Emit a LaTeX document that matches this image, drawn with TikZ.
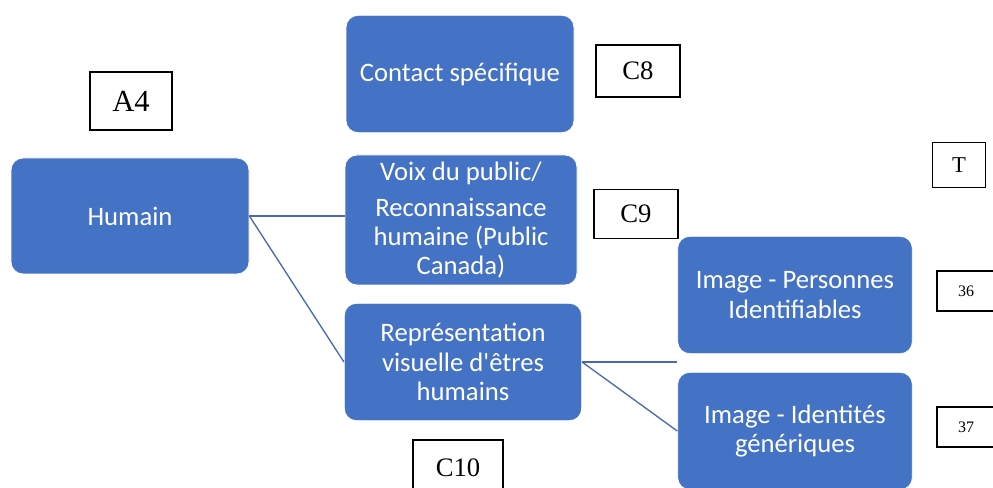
\documentclass[tikz,border=0pt]{standalone}
\usepackage{fontspec}
\setmainfont{Liberation Serif}
\newfontfamily\boxfont{Carlito}
\usepackage{xcolor}
\usepackage{tikz}
\usetikzlibrary{positioning, calc}
\definecolor{boxblue}{HTML}{4472C4}
\definecolor{linkblue}{HTML}{4A6AAE}

\begin{document}
\begin{tikzpicture}[x=0.75pt, y=-0.75pt,
    blk/.style={fill=boxblue, draw=white, line width=0.6pt, rounded corners=9pt,
      text=white, align=center, inner sep=0pt, minimum width=176pt, minimum height=88pt,
      font=\boxfont\fontsize{20}{22}\selectfont},
    tag/.style={draw=black, fill=white, line width=0.9pt, inner sep=0pt,
      font=\fontsize{20}{22}\selectfont},
    link/.style={draw=linkblue, line width=1pt}]
      \useasboundingbox (0,0) rectangle (993,488);
      \clip (0,0) rectangle (993,488);

      \node[blk, minimum width=178.5pt, minimum height=87pt] at (130,216) (hum) {Humain};
      \node[blk, minimum width=171pt] at (460,74) (contact) {Contact spécifique};
      \node[blk, minimum width=174pt, minimum height=97.5pt] at (461,220) (voix) {Voix du public/\\[5pt] Reconnaissance\\humaine (Public\\Canada)};
      \node[blk, minimum width=178pt] at (463,362) (rep) {Représentation\\visuelle d'êtres\\humains};
      \node[blk] at (795,295) (ip) {Image - Personnes\\Identifiables};
      \node[blk] at (795,431) (ig) {Image - Identités\\génériques};

      \node[tag, minimum width=61.5pt, minimum height=43.5pt, font=\fontsize{23}{25}\selectfont] at (131,101) (a4) {A4};
      \node[tag, minimum width=63pt, minimum height=39pt] at (638,71) (c8) {C8};
      \node[tag, minimum width=63pt, minimum height=37pt] at (636,214) (c9) {C9};
      \node[tag, minimum width=67.5pt, minimum height=42pt] at (458,468) (c10) {C10};
      \node[tag, minimum width=40pt, minimum height=34pt, font=\fontsize{17}{19}\selectfont] at (959,165) (t) {T};
      \node[tag, minimum width=43.5pt, minimum height=30pt, font=\fontsize{12}{14}\selectfont] at (966,291) (n36) {36};
      \node[tag, minimum width=43.5pt, minimum height=30pt, font=\fontsize{12}{14}\selectfont] at (966,427) (n37) {37};

      \draw[link] (hum.east) -- (hum.east -| voix.west);
      \draw[link] (hum.east) -- (rep.west);
      \draw[link] (rep.east) -- (rep.east -| ip.west);
      \draw[link] (rep.east) -- (ig.west);
    \end{tikzpicture}
\end{document}
